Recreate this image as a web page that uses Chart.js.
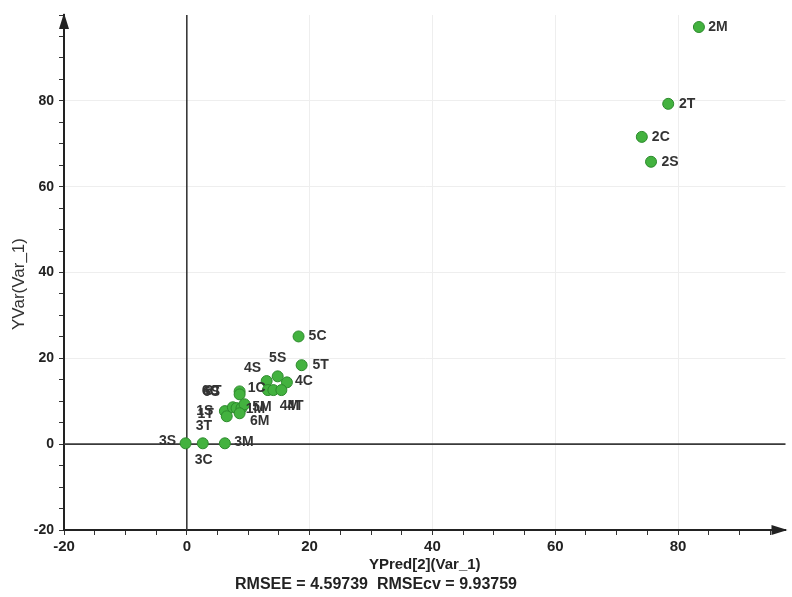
<!DOCTYPE html>
<html>
<head>
<meta charset="utf-8">
<script src="https://cdn.jsdelivr.net/npm/chart.js@4.4.0/dist/chart.umd.min.js"></script>
<style>
  html, body { margin: 0; padding: 0; background: #fff; }
  #wrap { width: 792px; height: 597px; }
</style>
</head>
<body>
<div id="wrap"><canvas id="chart" width="792" height="597"></canvas></div>
<script>
// sample names, predicted (x) and measured (y) values
const sampleNames = ["2M", "2T", "2C", "2S", "5C", "5T", "5S", "4S", "4C", "5M", "4M", "4T",
  "1C", "6C", "1S", "1T", "3T", "6S", "6T", "1M", "6M", "3S", "3C", "3M"];
const predicted = [83.4, 78.4, 74.1, 75.6, 18.2, 18.7, 14.8, 13.0, 16.3, 13.2, 14.1, 15.4,
  8.6, 8.6, 6.2, 6.5, 7.5, 8.1, 8.9, 9.4, 8.6, -0.2, 2.6, 6.2];
const measured = [97.2, 79.3, 71.6, 65.8, 25.1, 18.4, 15.8, 14.7, 14.4, 12.6, 12.6, 12.6,
  12.3, 11.6, 7.7, 6.5, 8.6, 8.4, 8.4, 9.3, 7.2, 0.2, 0.2, 0.2];

const xTitle = "YPred[2](Var_1)";
const yTitle = "YVar(Var_1)";
const footer = "RMSEE = 4.59739  RMSEcv = 9.93759";

// where each name sits relative to its dot (px), the reference piles some on top of each other
const labelOffsets = {
  "2M": [19, 0], "2T": [19, 0], "2C": [19, 0], "2S": [19, 0],
  "5C": [19, 0], "5T": [19, 0], "5S": [0, -18], "4S": [-14, -13], "4C": [17, -1],
  "5M": [-6, 17], "4M": [16, 16], "4T": [14, 16],
  "1C": [17, -3], "6C": [-29, -3], "1S": [-20, 0], "1T": [-21, -2], "3T": [-29, 19],
  "6S": [-25, -16], "6T": [-28, -17], "1M": [11, 5], "6M": [20, 8],
  "3S": [-18, -2], "3C": [1, 17], "3M": [19, -1]
};

const points = sampleNames.map((name, i) => ({ x: predicted[i], y: measured[i] }));

// the dark lines through x=0 and y=0, drawn after the grid so nothing cuts them
const zeroLines = {
  id: "zeroLines",
  beforeDatasetsDraw(chart) {
    const ctx = chart.ctx;
    const a = chart.chartArea;
    const x0 = chart.scales.x.getPixelForValue(0);
    const y0 = chart.scales.y.getPixelForValue(0);
    ctx.save();
    ctx.strokeStyle = "#3a3a3a";
    ctx.lineWidth = 1.6;
    ctx.beginPath();
    ctx.moveTo(x0, a.top);
    ctx.lineTo(x0, a.bottom);
    ctx.moveTo(a.left, y0);
    ctx.lineTo(a.right, y0);
    ctx.stroke();
    ctx.restore();
  }
};

const pointLabels = {
  id: "pointLabels",
  afterDatasetsDraw(chart) {
    const ctx = chart.ctx;
    const meta = chart.getDatasetMeta(0);
    ctx.save();
    ctx.font = "bold 14px 'Liberation Sans', Arial, sans-serif";
    ctx.fillStyle = "#333";
    ctx.textAlign = "center";
    ctx.textBaseline = "middle";
    meta.data.forEach((el, i) => {
      const off = labelOffsets[sampleNames[i]] || [18, 0];
      ctx.fillText(sampleNames[i], el.x + off[0], el.y + off[1]);
    });
    ctx.restore();
  }
};

const axisDecor = {
  id: "axisDecor",
  afterDraw(chart) {
    const ctx = chart.ctx;
    const a = chart.chartArea;
    ctx.save();
    ctx.fillStyle = "#222";
    // arrow on x axis
    ctx.beginPath();
    ctx.moveTo(a.right + 2, a.bottom);
    ctx.lineTo(a.right - 14, a.bottom - 5);
    ctx.lineTo(a.right - 14, a.bottom + 5);
    ctx.closePath();
    ctx.fill();
    // arrow on y axis
    ctx.beginPath();
    ctx.moveTo(a.left, a.top - 2);
    ctx.lineTo(a.left - 5, a.top + 14);
    ctx.lineTo(a.left + 5, a.top + 14);
    ctx.closePath();
    ctx.fill();
    // footer under the x title
    ctx.font = "bold 16px 'Liberation Sans', Arial, sans-serif";
    ctx.fillStyle = "#222";
    ctx.textAlign = "center";
    ctx.textBaseline = "middle";
    ctx.fillText(footer, 376, 585);
    // y title
    ctx.translate(19, 284);
    ctx.rotate(-Math.PI / 2);
    ctx.font = "17px 'Liberation Sans', Arial, sans-serif";
    ctx.fillStyle = "#333";
    ctx.fillText(yTitle, 0, 0);
    ctx.restore();
  }
};

function gridColor(c) {
  const v = c.tick.value;
  if (v === 0 || v === -20 || v >= 100) return "rgba(0,0,0,0)";
  if (v % 20 === 0) return "#eeeeee";
  return "rgba(0,0,0,0)";
}

const boldFont = { family: "'Liberation Sans', Arial, sans-serif", size: 14, weight: "bold" };

new Chart(document.getElementById("chart"), {
  type: "scatter",
  data: {
    datasets: [{
      data: points,
      backgroundColor: "#43b23f",
      borderColor: "#2c8a2c",
      borderWidth: 1,
      pointRadius: 5.5,
      pointHoverRadius: 5.5
    }]
  },
  options: {
    responsive: false,
    animation: false,
    events: [],
    layout: { padding: { top: 15, right: 0, left: 0, bottom: 0 } },
    plugins: {
      legend: { display: false },
      tooltip: { enabled: false }
    },
    scales: {
      x: {
        type: "linear",
        min: -20,
        max: 97.5,
        afterFit: (s) => { s.height = 67; },
        border: { display: true, color: "#222", width: 2 },
        grid: {
          color: gridColor,
          tickColor: "#333",
          tickLength: 5
        },
        ticks: {
          stepSize: 5,
          includeBounds: false,
          maxRotation: 0,
          autoSkip: false,
          padding: 3,
          color: "#222",
          font: { ...boldFont, size: 15 },
          callback: (v) => (v % 20 === 0 ? v : "")
        },
        title: {
          display: true,
          text: xTitle,
          color: "#222",
          font: { ...boldFont, size: 15 },
          padding: { top: 0, bottom: 23 }
        }
      },
      y: {
        type: "linear",
        min: -20,
        max: 100,
        afterFit: (s) => { s.width = 64; },
        border: { display: true, color: "#222", width: 2 },
        grid: {
          color: gridColor,
          tickColor: "#333",
          tickLength: 5
        },
        ticks: {
          stepSize: 5,
          includeBounds: false,
          autoSkip: false,
          padding: 5,
          color: "#222",
          font: boldFont,
          callback: (v) => (v % 20 === 0 && v < 100 ? v : "")
        }
      }
    }
  },
  plugins: [zeroLines, pointLabels, axisDecor]
});
</script>
</body>
</html>
